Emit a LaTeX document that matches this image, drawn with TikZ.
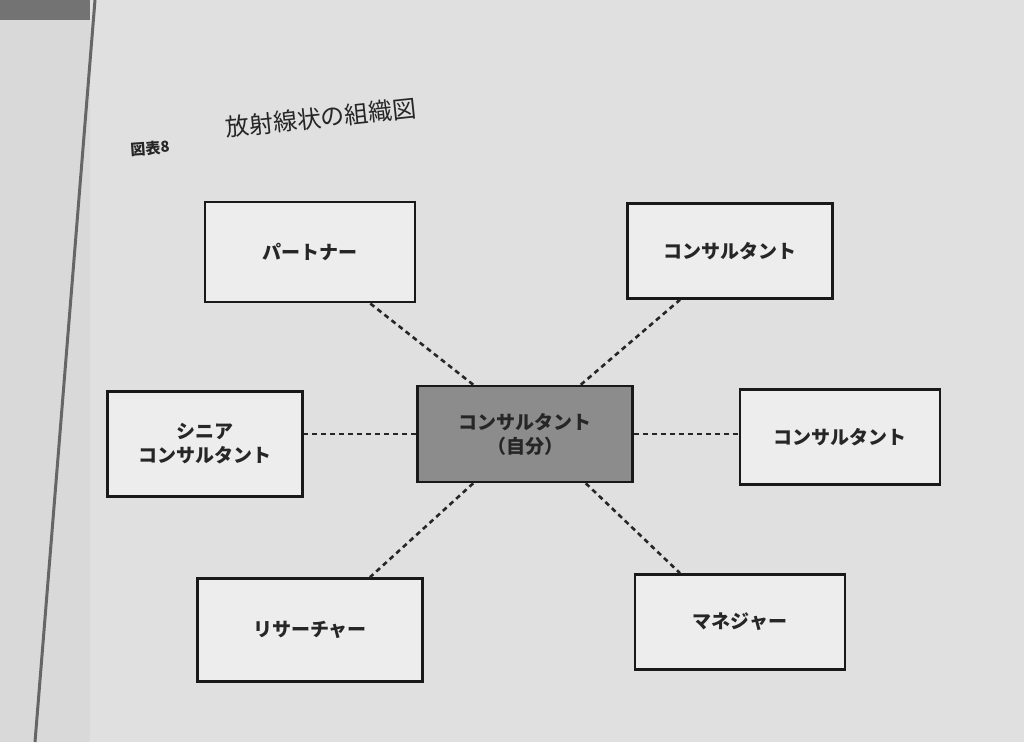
\documentclass[tikz,border=0pt]{standalone}
\usepackage{fontspec}
\newfontfamily\cjk{Noto Sans CJK JP}
\usetikzlibrary{patterns}
\begin{document}
\begin{tikzpicture}[x=1pt,y=-1pt,
  box/.style={draw=black!90,line width=2.6pt,fill=white!93!black,minimum width=#1,align=center,font=\cjk\bfseries\fontsize{19}{24}\selectfont,text=black!85},
  dl/.style={dash pattern=on 5pt off 4pt,line width=2.6pt,draw=black!85}]
\useasboundingbox (0,0) rectangle (1024,742);
\fill[black!15] (0,0) rectangle (1024,742);
\fill[black!55] (0,0) rectangle (95,20);
\fill[black!12] (90,0) rectangle (1024,742);
\draw[black!60,line width=3pt] (95,0) -- (35,742);
\node[font=\cjk\bfseries\itshape\fontsize{15}{17}\selectfont,text=black!85,rotate=4] (t1) at (150,148) {図表8};
\node[font=\cjk\fontsize{24}{28}\selectfont,text=black!85,rotate=6,anchor=west] (t2) at (222,128) {放射線状の組織図};
\node[box=210pt,minimum height=100pt] (p) at (310,252) {パートナー};
\node[box=205pt,minimum height=95pt] (ctr) at (730,251) {コンサルタント};
\node[box=195pt,minimum height=105pt] (s) at (205,444) {シニア\\コンサルタント};
\node[box=200pt,minimum height=95pt] (cr) at (840,437) {コンサルタント};
\node[box=225pt,minimum height=103pt] (r) at (310,630) {リサーチャー};
\node[box=210pt,minimum height=95pt] (m) at (740,622) {マネジャー};
\node[box=215pt,minimum height=96pt,fill=black!45] (c) at (525,434) {コンサルタント\\（自分）};
\draw[dl] ([xshift=57pt]c.north west) -- ([xshift=60pt]p.south);
\draw[dl] ([xshift=-53pt]c.north east) -- ([xshift=-50pt]ctr.south);
\draw[dl] (c.west) -- (s.east |- c.west);
\draw[dl] (c.east) -- (cr.west |- c.east);
\draw[dl] ([xshift=57pt]c.south west) -- ([xshift=60pt]r.north);
\draw[dl] ([xshift=-48pt]c.south east) -- ([xshift=-60pt]m.north);
\end{tikzpicture}
\end{document}
